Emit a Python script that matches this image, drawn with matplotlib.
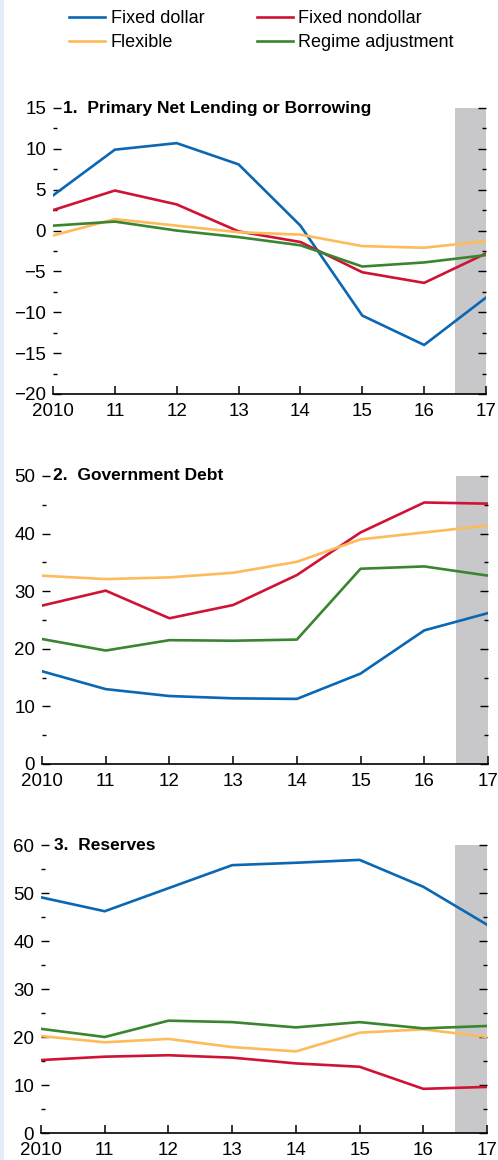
"""
Fiscal, debt and reserves paths by exchange rate regime
"""
import matplotlib
matplotlib.use('Agg')
import matplotlib.pyplot as plt
from matplotlib.ticker import MultipleLocator
from matplotlib.patches import Rectangle

plt.rcParams['font.family'] = ['Liberation Sans', 'DejaVu Sans']

years = [2010, 2011, 2012, 2013, 2014, 2015, 2016, 2017]
year_labels = ['2010', '11', '12', '13', '14', '15', '16', '17']
series_names = ['Fixed dollar', 'Fixed nondollar', 'Flexible', 'Regime adjustment']
colors = ['#0a67b4', '#cf1235', '#fdbb5a', '#3a852f']

# Panel 1: primary net lending or borrowing
lending_fixed_dollar = [4.3, 9.9, 10.7, 8.1, 0.6, -10.4, -14.0, -8.2]
lending_fixed_nondollar = [2.5, 4.9, 3.2, -0.1, -1.4, -5.1, -6.4, -2.8]
lending_flexible = [-0.6, 1.4, 0.6, -0.2, -0.5, -1.9, -2.1, -1.3]
lending_regime_adj = [0.6, 1.1, 0.0, -0.8, -1.8, -4.4, -3.9, -3.0]

# Panel 2: government debt
debt_fixed_dollar = [16.1, 13.0, 11.8, 11.4, 11.3, 15.7, 23.2, 26.2]
debt_fixed_nondollar = [27.5, 30.1, 25.3, 27.6, 32.8, 40.2, 45.4, 45.2]
debt_flexible = [32.7, 32.1, 32.4, 33.2, 35.1, 39.0, 40.2, 41.4]
debt_regime_adj = [21.7, 19.7, 21.5, 21.4, 21.6, 33.9, 34.3, 32.7]

# Panel 3: reserves
res_fixed_dollar = [49.1, 46.2, 51.0, 55.8, 56.3, 56.9, 51.3, 43.4]
res_fixed_nondollar = [15.2, 15.9, 16.2, 15.7, 14.5, 13.8, 9.2, 9.6]
res_flexible = [20.2, 18.9, 19.6, 17.9, 17.0, 20.9, 21.6, 20.0]
res_regime_adj = [21.7, 20.0, 23.4, 23.1, 22.0, 23.1, 21.8, 22.3]

panels = [
    {'title': '1.  Primary Net Lending or Borrowing',
     'data': [lending_fixed_dollar, lending_fixed_nondollar, lending_flexible, lending_regime_adj],
     'ylim': (-20, 15), 'major': 5, 'minor': 2.5,
     'rect': [53 / 498, 1 - 394 / 1160, 433 / 498, 286 / 1160], 'title_x': 0.022},
    {'title': '2.  Government Debt',
     'data': [debt_fixed_dollar, debt_fixed_nondollar, debt_flexible, debt_regime_adj],
     'ylim': (0, 50), 'major': 10, 'minor': 5,
     'rect': [42 / 498, 1 - 764 / 1160, 446 / 498, 288 / 1160], 'title_x': 0.024},
    {'title': '3.  Reserves',
     'data': [res_fixed_dollar, res_fixed_nondollar, res_flexible, res_regime_adj],
     'ylim': (0, 60), 'major': 10, 'minor': 5,
     'rect': [41 / 498, 1 - 1133 / 1160, 446 / 498, 288 / 1160], 'title_x': 0.029},
]

fig = plt.figure(figsize=(4.98, 11.6), dpi=100)

# light blue strip on the left edge
fig.patches.append(Rectangle((0, 0), 4 / 498, 1, transform=fig.transFigure,
                             facecolor='#e5edf8', edgecolor='none', zorder=0))

handles = []
for p in panels:
    ax = fig.add_axes(p['rect'])
    ax.axvspan(2016.5, 2017, color='#c8c8ca', lw=0, zorder=0)
    lines = []
    for vals, name, c in zip(p['data'], series_names, colors):
        ln, = ax.plot(years, vals, color=c, lw=1.9, label=name, zorder=3)
        lines.append(ln)
    handles = lines

    ax.set_xlim(2010, 2017)
    ax.set_ylim(*p['ylim'])
    ax.set_xticks(years)
    ax.set_xticklabels(year_labels)
    ax.yaxis.set_major_locator(MultipleLocator(p['major']))
    ax.yaxis.set_minor_locator(MultipleLocator(p['minor']))
    ax.set_yticklabels([f'{v:g}'.replace('-', '\u2212') for v in ax.get_yticks()])

    for side in ['left', 'right', 'top']:
        ax.spines[side].set_visible(False)
    ax.spines['bottom'].set_linewidth(1.2)

    ax.tick_params(axis='x', direction='in', length=6, width=1.1, labelsize=13.5, pad=6.5)
    ax.tick_params(axis='y', which='major', direction='in', length=6, width=1.0,
                   labelsize=13.5, pad=5, left=True, right=True)
    ax.tick_params(axis='y', which='minor', direction='in', length=3, width=1.0,
                   left=True, right=True)

    ax.text(p['title_x'], 1.0, p['title'], transform=ax.transAxes, ha='left', va='center',
            fontsize=12.5, fontweight='bold')

fig.legend(handles=[handles[0], handles[2], handles[1], handles[3]],
           labels=[series_names[0], series_names[2], series_names[1], series_names[3]],
           ncol=2, loc='upper left', bbox_to_anchor=(62 / 498, 1 - 3 / 1160), frameon=False,
           fontsize=13, handlelength=2.0, handletextpad=0.3, columnspacing=2.9,
           labelspacing=0.4, borderaxespad=0.0)

fig.savefig('out.png', dpi=100)
